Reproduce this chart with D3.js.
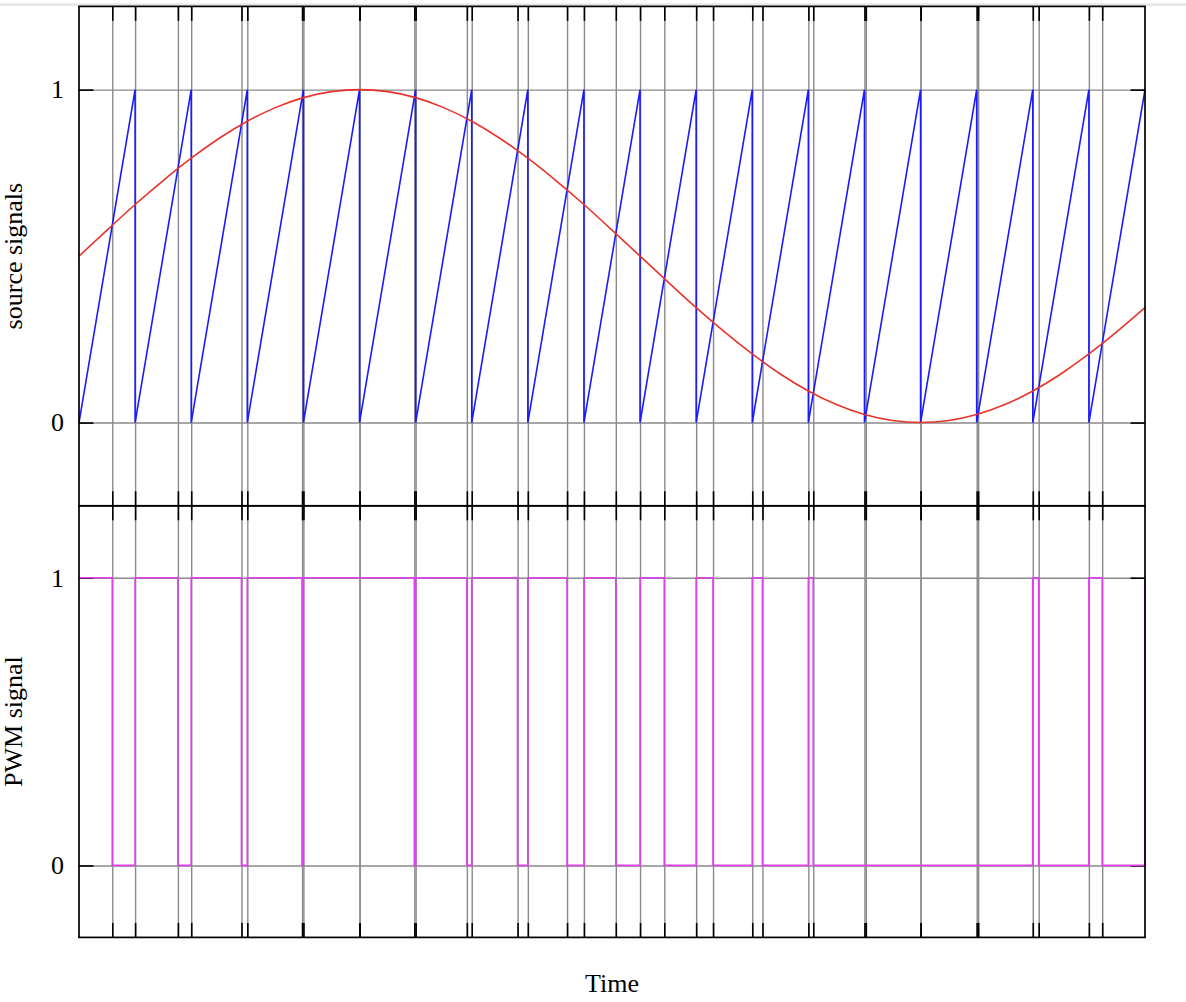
<!DOCTYPE html>
<html>
<head>
<meta charset="utf-8">
<script src="https://cdn.jsdelivr.net/npm/d3@7"></script>
<style>
  html, body { margin: 0; padding: 0; background: #fff; }
  svg { display: block; }
</style>
</head>
<body>
<svg id="chart" width="1186" height="1002"></svg>
<script>
// ---------------- data ----------------
// sawtooth carrier: ramp 0 -> 1 in each period, reset at these times
const sawResets = [0, 1, 2, 3, 4, 5, 6, 7, 8, 9, 10, 11, 12, 13, 14, 15, 16, 17, 18, 19];
// reference (modulating) signal, sampled
const sineT = [0, 0.5, 1, 1.5, 2, 2.5, 3, 3.5, 4, 4.5, 5, 5.5, 6, 6.5, 7, 7.5, 8, 8.5, 9, 9.5,
               10, 10.5, 11, 11.5, 12, 12.5, 13, 13.5, 14, 14.5, 15, 15.5, 16, 16.5, 17, 17.5, 18, 18.5, 19];
const sineV = [0.500, 0.578, 0.655, 0.727, 0.794, 0.854, 0.905, 0.946, 0.976, 0.994, 1.000, 0.994, 0.976, 0.946,
               0.905, 0.854, 0.794, 0.727, 0.655, 0.578, 0.500, 0.422, 0.345, 0.273, 0.206, 0.146, 0.095, 0.054,
               0.024, 0.006, 0.000, 0.006, 0.024, 0.054, 0.095, 0.146, 0.206, 0.273, 0.345];
// PWM output: level changes (step after)
const pwmTimes  = [0, 0.593, 1, 1.763, 2, 2.896, 3, 3.976, 4, 5.977, 6, 6.913, 7, 7.817, 8, 8.699, 9, 9.568,
                   10, 10.432, 11, 11.301, 12, 12.182, 13, 13.087, 17, 17.105, 18, 18.237, 19];
const pwmLevels = [1, 0, 1, 0, 1, 0, 1, 0, 1, 0, 1, 0, 1, 0, 1, 0, 1, 0,
                   1, 0, 1, 0, 1, 0, 1, 0, 1, 0, 1, 0, 1];
// x tics: carrier resets and crossing points of carrier and reference
const resetTics = [1, 2, 3, 4, 5, 6, 7, 8, 9, 10, 11, 12, 13, 14, 15, 16, 17, 18];
const crossTics = [0.593, 1.763, 2.896, 3.976, 5.0, 5.977, 6.913, 7.817, 8.699, 9.568, 10.432,
                   11.301, 12.182, 13.087, 14.024, 15.0, 16.026, 17.105, 18.237];
const yTickValues = [0, 1];
const yTickLabels = ["0", "1"];
const xDomain = [0, 19];
const yDomain = [-0.25, 1.25];
const labels = { x: "Time", top: "source signals", bottom: "PWM signal" };

// ---------------- layout ----------------
const L = 79, R = 1145, T = 6.4, M = 505.8, B = 937.4;
const FONT = "'Liberation Serif', 'Times New Roman', serif";
const FS = 26;
const TICK = 14.5;
const GRID = "#8a8a8a";

const svg = d3.select("#chart");
svg.append("rect").attr("x", 0).attr("y", 3.3).attr("width", 1186).attr("height", 2.6).attr("fill", "#e6e6e6");

const x = d3.scaleLinear().domain(xDomain).range([L, R]);
const yTop = d3.scaleLinear().domain(yDomain).range([M, T]);
const yBot = d3.scaleLinear().domain(yDomain).range([B, M]);
const xTics = resetTics.concat(crossTics).sort((a, b) => a - b);

function panel(y, y0, y1) {
  const g = svg.append("g");
  // vertical grid
  g.append("g").attr("transform", `translate(0,${y1})`)
    .call(d3.axisBottom(x).tickValues(xTics).tickSize(-(y1 - y0)).tickFormat(""))
    .call(s => s.select(".domain").remove())
    .call(s => s.selectAll("line").attr("stroke", GRID).attr("stroke-width", 1.4));
  // horizontal grid
  g.append("g").attr("transform", `translate(${L},0)`)
    .call(d3.axisLeft(y).tickValues(yTickValues).tickSize(-(R - L)).tickFormat(""))
    .call(s => s.select(".domain").remove())
    .call(s => s.selectAll("line").attr("stroke", GRID).attr("stroke-width", 1.4));
  // x tick marks (inward) at top and bottom border
  g.append("g").attr("transform", `translate(0,${y0})`)
    .call(d3.axisTop(x).tickValues(xTics).tickSize(-TICK).tickFormat(""))
    .call(s => s.select(".domain").remove())
    .call(s => s.selectAll("line").attr("stroke", "#000").attr("stroke-width", 1.6));
  g.append("g").attr("transform", `translate(0,${y1})`)
    .call(d3.axisBottom(x).tickValues(xTics).tickSize(-TICK).tickFormat(""))
    .call(s => s.select(".domain").remove())
    .call(s => s.selectAll("line").attr("stroke", "#000").attr("stroke-width", 1.6));
  // y ticks with labels (left), mirror ticks (right)
  g.append("g").attr("transform", `translate(${L},0)`)
    .call(d3.axisLeft(y).tickValues(yTickValues).tickSize(-TICK).tickPadding(15)
          .tickFormat((d, i) => yTickLabels[i]))
    .call(s => s.select(".domain").remove())
    .call(s => s.selectAll("line").attr("stroke", "#000").attr("stroke-width", 1.6))
    .call(s => s.selectAll("text").attr("font-family", FONT).attr("font-size", FS).attr("fill", "#000"));
  g.append("g").attr("transform", `translate(${R},0)`)
    .call(d3.axisRight(y).tickValues(yTickValues).tickSize(-TICK).tickFormat(""))
    .call(s => s.select(".domain").remove())
    .call(s => s.selectAll("line").attr("stroke", "#000").attr("stroke-width", 1.6));
  return g;
}

const gTop = panel(yTop, T, M);
const gBot = panel(yBot, M, B);

// sawtooth
const sawPts = [];
for (let i = 0; i < sawResets.length - 1; i++) {
  sawPts.push([sawResets[i], 0]);
  sawPts.push([sawResets[i + 1], 1]);
}
gTop.append("path")
  .attr("d", d3.line().x(d => x(d[0])).y(d => yTop(d[1]))(sawPts))
  .attr("fill", "none").attr("stroke", "#1a1aff").attr("stroke-width", 1.6);

// reference sine
gTop.append("path")
  .attr("d", d3.line().curve(d3.curveNatural).x((d, i) => x(sineT[i])).y(d => yTop(d))(sineV))
  .attr("fill", "none").attr("stroke", "#e8332a").attr("stroke-width", 1.6);

// PWM
gBot.append("path")
  .attr("d", d3.line().curve(d3.curveStepAfter).x((d, i) => x(pwmTimes[i])).y(d => yBot(d))(pwmLevels))
  .attr("fill", "none").attr("stroke", "#e040f0").attr("stroke-width", 1.7);

// borders
[[T, M], [M, B]].forEach(([a, b]) => {
  svg.append("rect").attr("x", L).attr("y", a).attr("width", R - L).attr("height", b - a)
    .attr("fill", "none").attr("stroke", "#000").attr("stroke-width", 1.7);
});

// axis titles
svg.append("text").attr("x", (L + R) / 2).attr("y", 991.5).attr("text-anchor", "middle")
  .attr("font-family", FONT).attr("font-size", FS).text(labels.x);
svg.append("text").attr("transform", `translate(21.5,${(T + M) / 2}) rotate(-90)`).attr("text-anchor", "middle")
  .attr("font-family", FONT).attr("font-size", FS).text(labels.top);
svg.append("text").attr("transform", `translate(21.5,${(M + B) / 2}) rotate(-90)`).attr("text-anchor", "middle")
  .attr("font-family", FONT).attr("font-size", FS).text(labels.bottom);
</script>
</body>
</html>
